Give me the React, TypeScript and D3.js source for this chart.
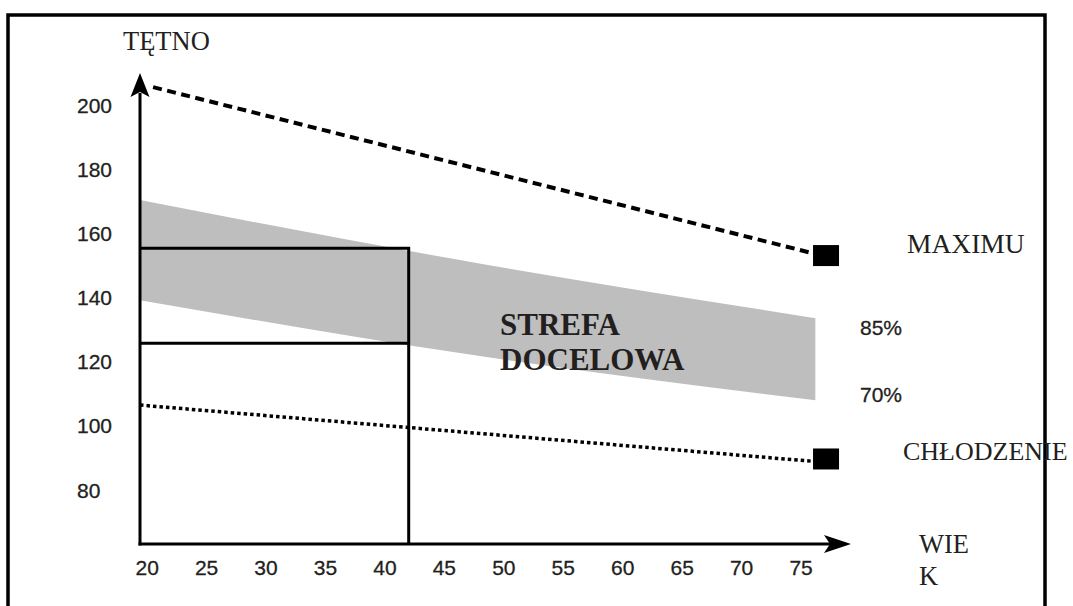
import React from "react";
import * as d3 from "d3";

// ---- data ----
const ageTicks = [20, 25, 30, 35, 40, 45, 50, 55, 60, 65, 70, 75];
const hrTicks = [200, 180, 160, 140, 120, 100, 80];

const bandAges = [19.4, 46.3, 76.2];
const band85 = [170.4, 151.7, 133.6];
const band70 = [139.2, 122.7, 108.0];

const maxAges = [20.5, 75.9];
const maxHR = [205.6, 153.9];

const coolAges = [19.4, 75.9];
const coolHR = [106.5, 89.0];

const markerAge = 77.1;
const markerMaxHR = 153.1;
const markerCoolHR = 89.7;

const targetAge = 42;
const targetUpper = 155.4;
const targetLower = 125.8;

const ageDomain = [19.4, 79.2];
const hrDomain = [63.2, 210];

const W = 1073;
const H = 606;

export default function App() {
  const x = d3.scaleLinear().domain(ageDomain).range([140, 851]);
  const y = d3.scaleLinear().domain(hrDomain).range([544, 73]);

  const bandData = bandAges.map((a, i) => ({ a, hi: band85[i], lo: band70[i] }));
  const area = d3
    .area<{ a: number; hi: number; lo: number }>()
    .x((d) => x(d.a))
    .y0((d) => y(d.lo))
    .y1((d) => y(d.hi))
    .curve(d3.curveMonotoneX);

  const line = d3
    .line<[number, number]>()
    .x((d) => x(d[0]))
    .y((d) => y(d[1]));

  const maxPts: [number, number][] = maxAges.map((a, i) => [a, maxHR[i]]);
  const coolPts: [number, number][] = coolAges.map((a, i) => [a, coolHR[i]]);

  const x0 = x(ageDomain[0]);
  const x1 = x(ageDomain[1]);
  const y0 = y(hrDomain[0]);
  const y1 = y(hrDomain[1]);

  const serif = "'Liberation Serif', 'Times New Roman', serif";
  const sans = "'Liberation Sans', Arial, sans-serif";
  const ink = "#231f20";

  const mW = 26;
  const mH = 21;

  return (
    <svg
      width={W}
      height={H}
      style={{ position: "absolute", left: 0, top: 0, display: "block", background: "#fff" }}
    >
      {/* frame */}
      <rect x={8} y={15} width={1037} height={620} fill="none" stroke="#000" strokeWidth={3.5} />

      {/* target zone band */}
      <path d={area(bandData) || ""} fill="#bebebe" />

      {/* target rectangle */}
      <path
        d={`M${x0},${y(targetUpper)}H${x(targetAge)}V${y0}M${x0},${y(targetLower)}H${x(targetAge)}`}
        fill="none"
        stroke="#000"
        strokeWidth={3}
      />

      {/* maximum line */}
      <path d={line(maxPts) || ""} fill="none" stroke="#000" strokeWidth={4} strokeDasharray="9,5.5" />
      {/* cool-down line */}
      <path d={line(coolPts) || ""} fill="none" stroke="#000" strokeWidth={3.5} strokeDasharray="3.5,3" />

      {/* axes */}
      <line x1={x0} y1={y0 + 1.5} x2={x0} y2={y1 + 20} stroke="#000" strokeWidth={3} />
      <line x1={x0 - 1.5} y1={y0} x2={x1 - 20} y2={y0} stroke="#000" strokeWidth={3} />
      <path
        d={`M${x0},${y1}L${x0 + 9.5},${y1 + 24}L${x0},${y1 + 19}L${x0 - 9.5},${y1 + 24}Z`}
        fill="#000"
      />
      <path
        d={`M${x1},${y0}L${x1 - 27},${y0 - 9}L${x1 - 21},${y0}L${x1 - 27},${y0 + 9}Z`}
        fill="#000"
      />

      {/* markers */}
      <rect x={x(markerAge) - mW / 2} y={y(markerMaxHR) - mH / 2} width={mW} height={mH} fill="#000" />
      <rect x={x(markerAge) - mW / 2} y={y(markerCoolHR) - mH / 2} width={mW} height={mH} fill="#000" />

      {/* tick labels */}
      {hrTicks.map((t) => (
        <text key={"y" + t} x={77} y={y(t)} dy="0.36em" fontFamily={sans} fontSize={21} fill={ink} stroke={ink} strokeWidth={0.3}>
          {t}
        </text>
      ))}
      {ageTicks.map((t) => (
        <text key={"x" + t} x={x(t)} y={575} textAnchor="middle" fontFamily={sans} fontSize={21} fill={ink} stroke={ink} strokeWidth={0.3}>
          {t}
        </text>
      ))}

      {/* axis titles & annotations */}
      <text x={123} y={50} fontFamily={serif} fontSize={26.5} fill={ink}>
        TĘTNO
      </text>
      <text x={919} y={553} fontFamily={serif} fontSize={26.5} fill={ink}>
        WIE
      </text>
      <text x={919} y={585} fontFamily={serif} fontSize={26.5} fill={ink}>
        K
      </text>
      <text x={907} y={253} fontFamily={serif} fontSize={27.5} fill={ink}>
        MAXIMU
      </text>
      <text x={860} y={335} fontFamily={sans} fontSize={21} fill={ink} stroke={ink} strokeWidth={0.3}>
        85%
      </text>
      <text x={860} y={402} fontFamily={sans} fontSize={21} fill={ink} stroke={ink} strokeWidth={0.3}>
        70%
      </text>
      <text x={903} y={460} fontFamily={serif} fontSize={26} fill={ink}>
        CHŁODZENIE
      </text>
      <text x={500} y={335} fontFamily={serif} fontSize={31} fontWeight="bold" fill={ink}>
        STREFA
      </text>
      <text x={500} y={370} fontFamily={serif} fontSize={31} fontWeight="bold" fill={ink}>
        DOCELOWA
      </text>
    </svg>
  );
}
